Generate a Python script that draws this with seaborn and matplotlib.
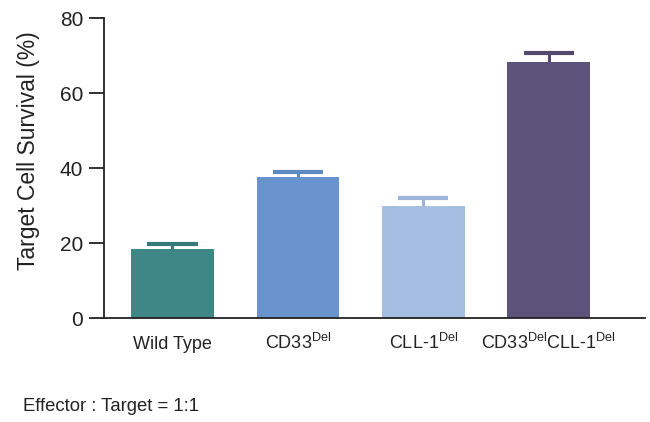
import matplotlib
matplotlib.use("Agg")
import matplotlib.pyplot as plt
import seaborn as sns
import pandas as pd

# values
groups = ["Wild Type", "CD33Del", "CLL-1Del", "CD33DelCLL-1Del"]
tick_labels = ["Wild Type", r"CD33$^{\mathrm{Del}}$", r"CLL-1$^{\mathrm{Del}}$",
               r"CD33$^{\mathrm{Del}}$CLL-1$^{\mathrm{Del}}$"]
survival = [18.5, 37.6, 29.9, 68.3]
error = [1.3, 1.3, 2.1, 2.5]
colors = ["#3f8686", "#6993cc", "#a7bee3", "#5c537b"]
err_colors = ["#377a7a", "#5f89c2", "#9cb3da", "#524970"]

df = pd.DataFrame({"group": groups, "survival": survival})

sns.set_style("white")
plt.rcParams["font.family"] = ["Liberation Sans", "DejaVu Sans"]
plt.rcParams["mathtext.fontset"] = "custom"
plt.rcParams["mathtext.rm"] = "Liberation Sans"

fig = plt.figure(figsize=(6.5, 4.22), dpi=100)
ax = fig.add_axes([0.16, 0.246, 0.832, 0.711])

sns.barplot(data=df, x="group", y="survival", hue="group", palette=colors,
            width=0.66, saturation=1, legend=False, linewidth=0, ax=ax)

# upper-only error bars (stem + cap)
for i, (m, e, c) in enumerate(zip(survival, error, err_colors)):
    ax.vlines(i, m, m + e, color=c, linewidth=2.2)
    ax.hlines(m + e, i - 0.2, i + 0.2, color=c, linewidth=3)

ax.set_ylim(0, 80)
ax.set_xlim(-0.546, 3.765)
ax.set_yticks([0, 20, 40, 60, 80])
ax.set_xticks(range(4))
ax.set_xticklabels(tick_labels, fontsize=13, va="baseline")
ax.tick_params(axis="y", labelsize=15, length=11, width=1.3, direction="out",
               left=True, pad=4, colors="#222222")
ax.tick_params(axis="x", length=0, pad=22, colors="#222222")
ax.set_xlabel("")
ax.set_ylabel("Target Cell Survival (%)", fontsize=16.5, color="#222222")
ax.yaxis.set_label_coords(-0.118, 0.56)

for s in ["top", "right"]:
    ax.spines[s].set_visible(False)
for s in ["left", "bottom"]:
    ax.spines[s].set_linewidth(1.3)
    ax.spines[s].set_color("#222222")

fig.text(0.035, 0.025, "Effector : Target = 1:1", fontsize=13.3, color="#222222")

fig.savefig("out.png", dpi=100)
